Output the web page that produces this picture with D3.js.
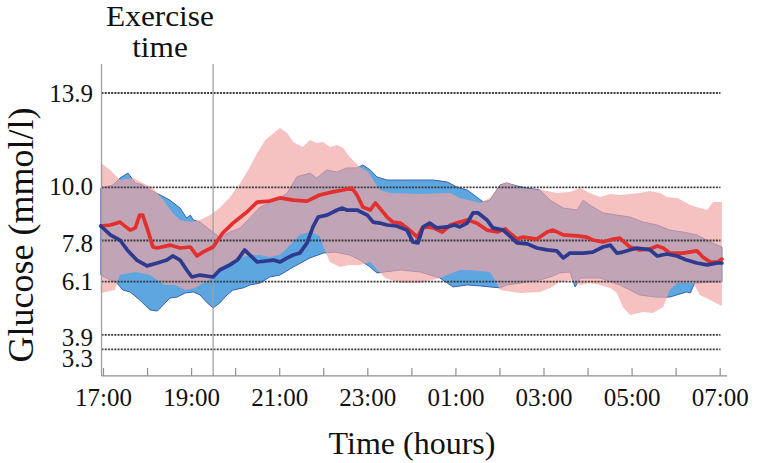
<!DOCTYPE html>
<html><head><meta charset="utf-8">
<script src="https://cdn.jsdelivr.net/npm/d3@7"></script>
<style>html,body{margin:0;padding:0;background:#fff;} svg{display:block;font-family:"Liberation Serif","Times New Roman",serif;}</style>
</head><body><svg id="c" width="767" height="463"></svg>
<script>
// time in minutes after 17:00, glucose in mmol/l
const redMeanT = [-3,10,23,37,44,50,54,61,68,74,91,105,119,128,136,150,163,177,196,210,227,241,259,278,295,313,327,339,346,354,364,371,377,387,395,405,414,422,428,435,441,450,462,473,486,496,509,523,537,548,554,564,572,591,605,613,627,646,659,667,681,695,704,718,731,745,755,763,772,790,809,817,827,837,843];
const redMeanV = [8.40,8.44,8.56,8.23,8.32,8.85,8.85,8.23,7.53,7.49,7.61,7.49,7.53,7.16,7.32,7.53,8.11,8.52,8.98,9.39,9.43,9.56,9.47,9.43,9.68,9.81,9.89,9.97,9.68,9.18,9.06,9.35,9.14,8.77,8.56,8.52,8.32,8.11,7.94,8.32,8.36,8.32,8.15,8.44,8.56,8.65,8.52,8.23,8.15,8.28,8.11,7.86,7.94,7.86,8.15,8.23,8.03,7.99,7.94,7.82,7.74,7.86,7.90,7.53,7.41,7.45,7.57,7.49,7.28,7.28,7.37,7.12,6.91,6.91,7.03];

const blueMeanT = [-3,10,23,33,46,60,74,87,95,105,114,121,132,150,159,173,183,193,200,210,232,241,251,259,268,278,286,293,305,319,326,332,346,360,368,377,387,400,414,422,429,436,445,455,469,479,486,496,504,511,523,531,545,557,564,578,591,605,618,627,636,654,667,681,691,700,708,727,745,755,768,782,795,809,823,837,843];
const blueMeanV = [8.40,8.03,7.82,7.41,6.99,6.75,6.87,6.99,7.16,6.99,6.58,6.29,6.37,6.29,6.58,6.79,6.99,7.41,7.20,6.91,6.99,6.91,7.08,7.20,7.28,7.70,8.36,8.77,8.85,9.06,9.14,9.06,9.06,8.85,8.56,8.52,8.44,8.40,8.23,7.74,7.70,8.36,8.52,8.32,8.36,8.44,8.36,8.52,8.94,8.94,8.65,8.32,8.23,7.90,7.70,7.66,7.49,7.41,7.37,7.08,7.28,7.28,7.32,7.53,7.61,7.28,7.32,7.49,7.41,7.16,7.24,7.16,6.99,6.87,6.79,6.87,6.87];

const redUpperT = [-3,10,23,41,54,68,82,95,105,119,132,146,159,173,187,200,210,221,241,251,259,272,282,291,300,309,319,327,336,350,361,377,391,432,473,486,514,527,541,550,568,599,618,636,650,663,677,691,704,731,745,759,768,782,800,813,823,831,843];
const redUpperV = [11.00,10.72,10.30,10.38,10.18,9.97,9.47,8.94,8.65,8.56,8.65,8.85,9.14,9.60,10.18,10.84,11.42,11.96,12.45,12.25,11.87,11.67,11.96,11.83,11.87,11.67,11.75,11.63,11.25,10.84,10.63,9.89,9.76,9.72,9.76,9.56,9.35,9.56,10.10,10.22,9.97,9.89,9.76,9.81,9.97,9.76,9.60,9.72,9.68,9.76,9.85,9.76,9.60,9.56,9.27,9.14,9.06,9.39,9.39];

const redLowerT = [-3,16,23,44,64,84,98,112,125,139,150,159,173,187,200,214,227,241,255,268,282,295,302,309,323,336,350,364,384,405,432,459,469,486,500,527,534,541,568,595,609,622,636,650,663,677,691,700,708,718,736,749,763,772,782,804,813,827,843];
const redLowerV = [5.63,5.75,6.37,6.50,6.37,5.96,5.96,5.75,5.84,6.08,6.25,6.66,6.91,7.08,7.20,7.20,7.12,7.20,7.61,8.03,8.15,7.99,7.41,6.91,6.70,6.79,6.79,6.91,6.25,6.04,6.04,6.25,6.37,6.58,6.58,6.50,6.17,5.75,5.63,5.67,5.84,6.08,6.17,5.96,6.04,5.96,5.84,5.63,5.05,4.72,4.84,4.80,5.05,5.75,6.04,6.04,5.55,5.34,5.09];

const blueUpperT = [-3,14,23,34,44,54,64,78,91,105,114,119,123,132,146,159,173,187,200,214,227,241,251,264,282,291,305,319,332,346,354,364,373,387,405,450,469,482,496,509,518,527,541,550,564,578,595,609,627,646,654,663,681,700,718,736,755,772,790,809,827,843];
const blueUpperV = [9.97,10.10,10.38,10.59,10.18,10.10,9.89,9.68,9.47,9.14,8.73,8.85,8.65,8.56,8.23,7.94,8.15,8.32,8.73,9.18,9.35,9.56,9.76,10.43,10.59,10.38,10.72,10.63,10.80,10.80,10.92,10.72,10.43,10.30,10.30,10.30,10.22,10.01,9.89,9.60,9.39,9.47,10.10,10.18,10.05,9.97,9.89,9.47,9.14,9.06,9.47,9.27,8.94,8.85,8.77,8.56,8.44,8.23,8.15,8.03,7.74,7.53];

const blueLowerT = [-3,10,19,27,37,50,64,74,82,91,101,112,123,132,142,150,159,169,177,191,200,214,227,241,259,282,300,316,336,350,364,373,384,405,432,459,469,477,496,514,527,541,550,568,595,609,622,636,643,650,677,704,731,752,772,795,800,806,827,843];
const blueLowerV = [6.37,6.17,6.04,5.75,5.67,5.34,4.93,4.88,5.13,5.42,5.46,5.63,5.67,5.55,5.22,5.01,5.22,5.55,5.75,5.84,5.96,6.04,6.29,6.37,6.70,7.08,7.28,7.32,7.20,6.99,6.70,6.46,6.50,6.58,6.50,6.25,6.04,5.88,5.96,5.92,5.88,5.84,5.96,6.04,6.17,6.29,6.46,6.50,5.88,6.25,6.25,5.96,5.55,5.46,5.46,5.67,5.63,6.04,6.08,6.08];

const yTicks = [3.3, 3.9, 6.1, 7.8, 10.0, 13.9];
const yTickLabels = ["3.3", "3.9", "6.1", "7.8", "10.0", "13.9"];
const xTicks = [0,60,120,180,240,300,360,420,480,540,600,660,720,780,840];
const xTickLabels = ["17:00","","19:00","","21:00","","23:00","","01:00","","03:00","","05:00","","07:00"];
const exerciseTime = 150;
const xTitle = "Time (hours)";
const yTitle = "Glucose (mmol/l)";
const exerciseLabel = ["Exercise", "time"];

const FONT = '"Liberation Serif", "Times New Roman", serif';
const x = d3.scaleLinear().domain([0, 840]).range([103, 719.7]);
const y = d3.scaleLinear().domain([3.3, 13.9]).range([349.3, 93]);
const svg = d3.select("#c");
svg.append("rect").attr("width",767).attr("height",463).attr("fill","#fff");

const pts = (T, V) => T.map((t, i) => [t, V[i]]);
const band = (UT, UV, LT, LV) => pts(UT, UV).concat(pts(LT, LV).reverse());
const closed = d3.line().x(d => x(d[0])).y(d => y(d[1])).curve(d3.curveLinearClosed);
const open = d3.line().x(d => x(d[0])).y(d => y(d[1])).curve(d3.curveLinear);

// bands
svg.append("path").attr("d", closed(band(blueUpperT, blueUpperV, blueLowerT, blueLowerV)))
  .attr("fill", "#5ea6e0").attr("stroke", "#3a62ae").attr("stroke-width", 1);
svg.append("path").attr("d", closed(band(redUpperT, redUpperV, redLowerT, redLowerV)))
  .attr("fill", "#f1a4a4").attr("fill-opacity", 0.68);

// gridlines
svg.append("g").selectAll("line").data(yTicks).join("line")
  .attr("x1", x(-2)).attr("x2", x(841)).attr("y1", d => y(d)).attr("y2", d => y(d))
  .attr("stroke", "#3a3a3a").attr("stroke-width", 1.8).attr("stroke-dasharray", "2,1.2");

// left axis & exercise line
const topV = 15.1, botV = 2.2;
svg.append("line").attr("x1", x(-2)).attr("x2", x(-2)).attr("y1", y(topV)).attr("y2", y(botV))
  .attr("stroke", "#a0a0a0").attr("stroke-width", 1.3);
svg.append("line").attr("x1", x(exerciseTime)).attr("x2", x(exerciseTime)).attr("y1", y(topV)).attr("y2", y(botV))
  .attr("stroke", "#a0a0a0").attr("stroke-width", 1.3);

// bottom axis
const gx = svg.append("g").attr("transform", `translate(0,${y(botV)})`)
  .attr("font-family", FONT)
  .call(d3.axisBottom(x).tickValues(xTicks).tickFormat((d, i) => xTickLabels[i]).tickSizeInner(-8).tickSizeOuter(0).tickPadding(12));
gx.attr("font-family", FONT);
gx.select(".domain").remove();
gx.selectAll(".tick line").attr("stroke", "#909090").attr("stroke-width", 1.2);
gx.selectAll(".tick text").attr("font-size", 25).attr("fill", "#111").attr("font-family", FONT);
svg.append("line").attr("x1", x(-2)).attr("x2", x(850)).attr("y1", y(botV)).attr("y2", y(botV))
  .attr("stroke", "#909090").attr("stroke-width", 1.2);

// y labels
const shift = {3.3: 9, 3.9: 2, 7.8: 3, 10: -1};
svg.append("g").selectAll("text").data(yTicks).join("text")
  .attr("x", 93).attr("y", d => y(d) + (shift[d] || 0)).attr("dy", "0.35em")
  .attr("text-anchor", "end").attr("font-size", 25).attr("fill", "#111").attr("font-family", FONT)
  .text((d, i) => yTickLabels[i]);

// lines
svg.append("path").attr("d", open(pts(redMeanT, redMeanV))).attr("fill", "none")
  .attr("stroke", "#e2302f").attr("stroke-width", 3.7).attr("stroke-linejoin", "round").attr("stroke-linecap", "round");
svg.append("path").attr("d", open(pts(blueMeanT, blueMeanV))).attr("fill", "none")
  .attr("stroke", "#2e3a8e").attr("stroke-width", 3.7).attr("stroke-linejoin", "round").attr("stroke-linecap", "round");

// titles
svg.append("text").attr("x", 412).attr("y", 454).attr("text-anchor", "middle").attr("font-family", FONT)
  .attr("font-size", 32).attr("fill", "#111").text(xTitle);
svg.append("text").attr("transform", "translate(33,235) rotate(-90)").attr("text-anchor", "middle").attr("font-family", FONT)
  .attr("font-size", 36).attr("fill", "#111").text(yTitle);
svg.append("text").attr("x", 160).attr("y", 26).attr("text-anchor", "middle").attr("font-family", FONT)
  .attr("font-size", 29).attr("transform", "translate(160,0) scale(1.08,1) translate(-160,0)")
  .attr("fill", "#111").text(exerciseLabel[0]);
svg.append("text").attr("x", 160).attr("y", 57).attr("text-anchor", "middle").attr("font-family", FONT)
  .attr("font-size", 29).attr("transform", "translate(160,0) scale(1.08,1) translate(-160,0)")
  .attr("fill", "#111").text(exerciseLabel[1]);
</script></body></html>
